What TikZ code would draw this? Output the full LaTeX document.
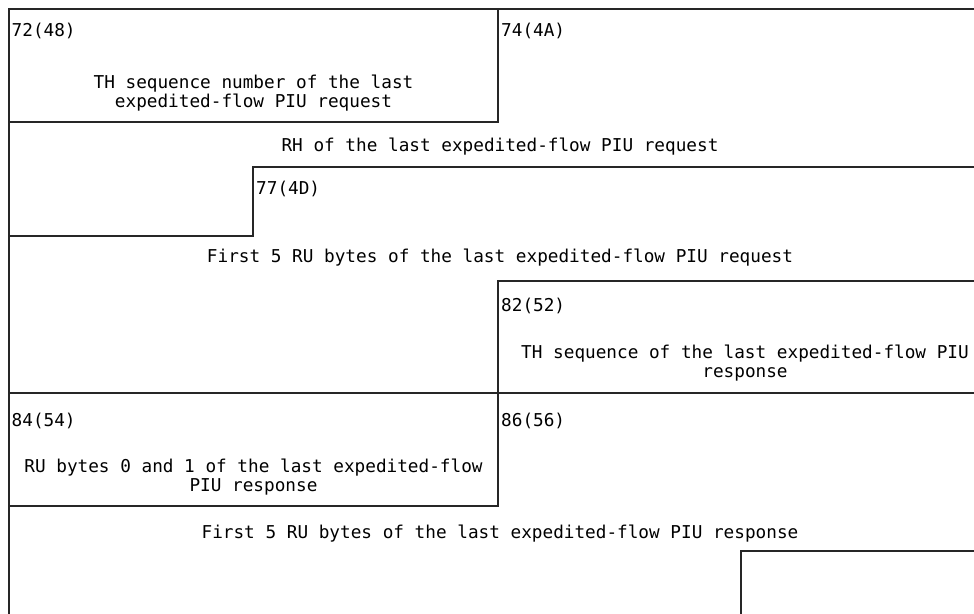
\documentclass[tikz,border=0pt]{standalone}
\usepackage{fontspec}
\setmonofont{DejaVu Sans Mono}
\newcommand{\diagfont}{\ttfamily\fontsize{17.7}{18.6}\selectfont}
\begin{document}
\begin{tikzpicture}[x=1pt,y=-1pt,
  rule/.style={line width=1.2pt, draw=black!85, line cap=rect},
  lbl/.style={anchor=base west, inner sep=0pt, font=\diagfont},
  txt/.style={anchor=base, inner sep=0pt, align=center, font=\diagfont}]
\useasboundingbox (0,0) rectangle (974,613);
\fill[white] (0,0) rectangle (974,613);
% coordinates of the layout rules
\coordinate (tl) at (9,9);
\coordinate (tr) at (974,9);
\coordinate (bl) at (9,613);
% outline and rules
\draw[rule] (bl) -- (tl) -- (tr);
\draw[rule] (9,122) -- (498,122) -- (498,9);
\draw[rule] (9,236) -- (253,236) -- (253,167) -- (974,167);
\draw[rule] (498,393) -- (498,281) -- (974,281);
\draw[rule] (9,393) -- (974,393);
\draw[rule] (9,506) -- (498,506) -- (498,393);
\draw[rule] (741,613) -- (741,551) -- (974,551);
% labels (multi-line nodes are placed by the baseline of their last line)
\node[lbl] (o72) at (11.5,36.5) {72(48)};
\node[txt] (t72) at (253.5,107) {TH sequence number of the last\\expedited-flow PIU request};
\node[lbl] (o74) at (501,36.5) {74(4A)};
\node[txt] (rh) at (500,151) {RH of the last expedited-flow PIU request};
\node[lbl] (o77) at (256,194) {77(4D)};
\node[txt] (f5q) at (500,262) {First 5 RU bytes of the last expedited-flow PIU request};
\node[lbl] (o82) at (501,311) {82(52)};
\node[txt] (t82) at (745,377.5) {TH sequence of the last expedited-flow PIU\\response};
\node[lbl] (o84) at (11.5,426.5) {84(54)};
\node[txt] (t84) at (253.5,491.5) {RU bytes 0 and 1 of the last expedited-flow\\PIU response};
\node[lbl] (o86) at (501,426.5) {86(56)};
\node[txt] (f5p) at (500,538) {First 5 RU bytes of the last expedited-flow PIU response};
\end{tikzpicture}
\end{document}
